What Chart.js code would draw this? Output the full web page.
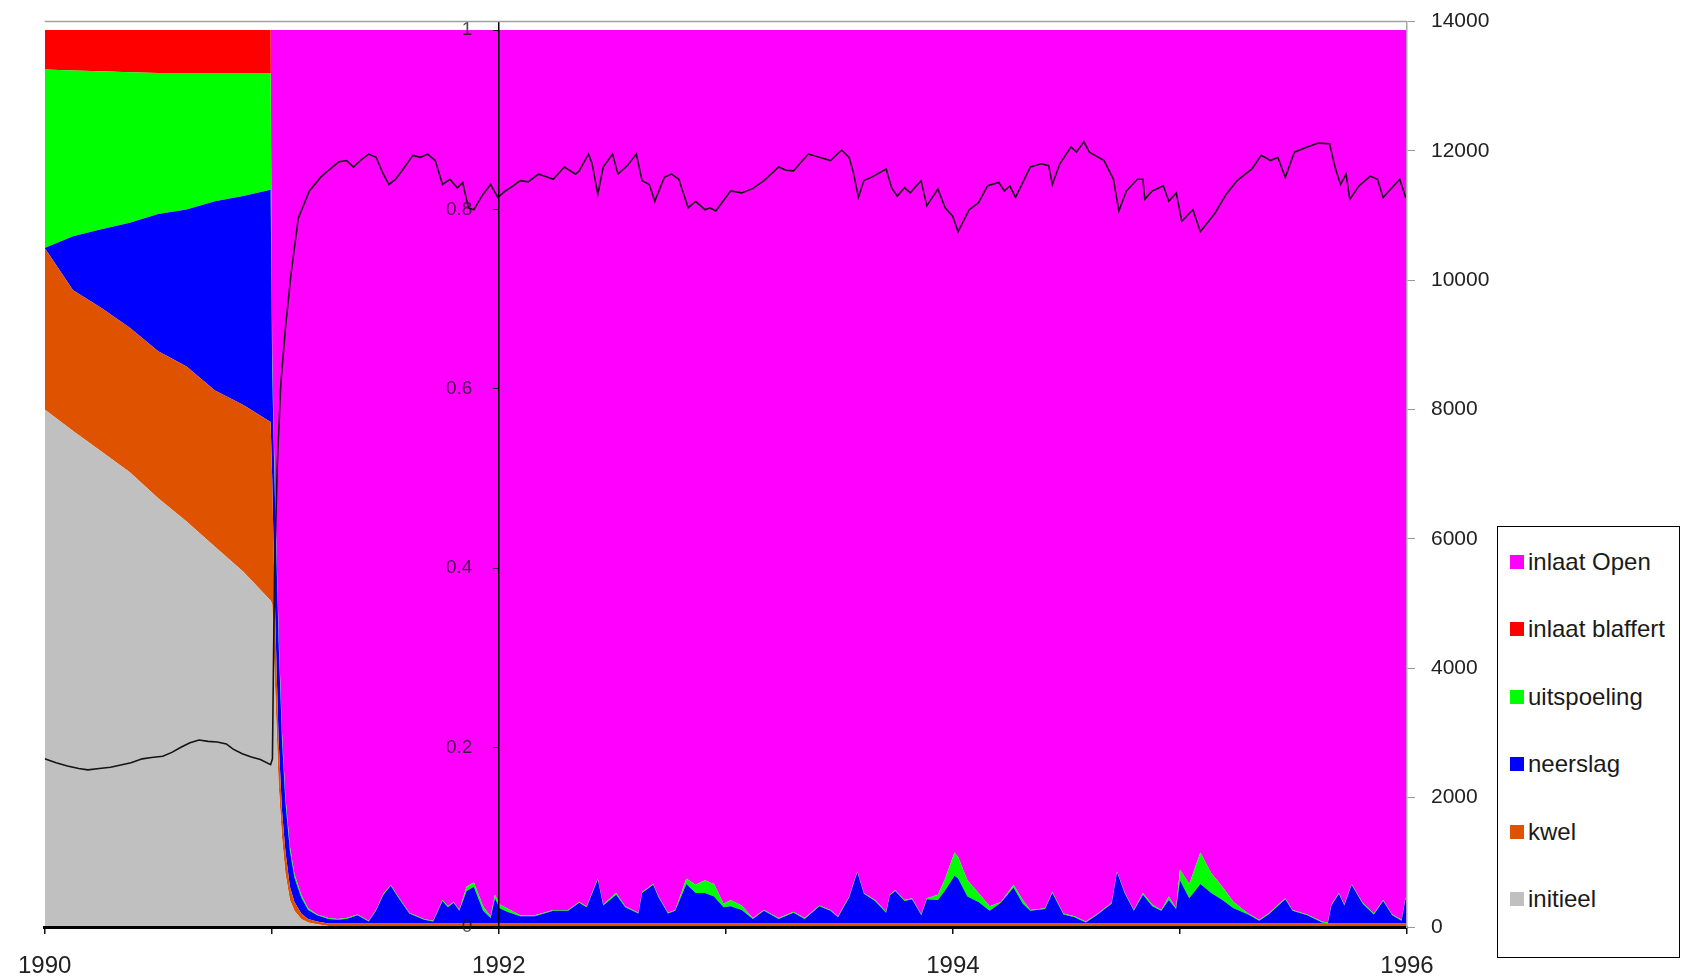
<!DOCTYPE html>
<html>
<head>
<meta charset="utf-8">
<title>Herkomst water</title>
<script src="https://cdn.jsdelivr.net/npm/chart.js@4.4.1/dist/chart.umd.min.js"></script>
<style>
  html, body { margin: 0; padding: 0; background: #fff; }
  #wrap { position: relative; width: 1683px; height: 979px; }
  #legend {
    position: absolute; left: 1497px; top: 526px; width: 183px; height: 432px;
    box-sizing: border-box; border: 1.5px solid #000; background: #fff;
    font: 24px "Liberation Sans", Arial, sans-serif; color: #1a1a1a;
  }
  #legend .item { position: absolute; left: 12px; height: 67.5px; display: flex; align-items: center; white-space: nowrap; }
  #legend .swatch { display: inline-block; width: 14px; height: 14px; margin-right: 4px; }
</style>
</head>
<body>
<div id="wrap">
  <canvas id="chart" width="1683" height="979"></canvas>
  <div id="legend"></div>
</div>
<script>
// shares per component (fraction of total), one value per entry of areaYears
const areaYears = [
  1990, 1990.125, 1990.25, 1990.375, 1990.5, 1990.625, 1990.75, 1990.875, 1990.995,
  1991.002, 1991.01, 1991.02, 1991.03, 1991.045, 1991.06, 1991.08, 1991.1, 1991.13, 1991.16, 1991.2, 1991.25,
  1991.29, 1991.328, 1991.378, 1991.427, 1991.459, 1991.492, 1991.524, 1991.557, 1991.606, 1991.671, 1991.711, 1991.752, 1991.776, 1991.801, 1991.826, 1991.858, 1991.89, 1991.931, 1991.964, 1991.983,
  1992.004, 1992.037, 1992.094, 1992.159, 1992.24, 1992.305, 1992.354, 1992.387, 1992.436, 1992.46, 1992.517, 1992.557, 1992.615, 1992.631, 1992.68, 1992.704, 1992.745, 1992.777, 1992.826, 1992.867, 1992.908, 1992.948, 1992.99,
  1993.021, 1993.07, 1993.119, 1993.168, 1993.233, 1993.298, 1993.347, 1993.412, 1993.461, 1993.494, 1993.543, 1993.579, 1993.608, 1993.657, 1993.706, 1993.722, 1993.746, 1993.787, 1993.82, 1993.861, 1993.885, 1993.934, 1993.966,
  1994.007, 1994.023, 1994.064, 1994.113, 1994.162, 1994.211, 1994.267, 1994.308, 1994.341, 1994.406, 1994.438, 1994.487, 1994.536, 1994.585, 1994.633, 1994.699, 1994.723, 1994.756, 1994.797, 1994.837, 1994.878, 1994.918, 1994.951, 1994.983,
  1995.0, 1995.041, 1995.09, 1995.138, 1995.187, 1995.236, 1995.301, 1995.349, 1995.39, 1995.464, 1995.496, 1995.561, 1995.626, 1995.651, 1995.667, 1995.7, 1995.724, 1995.756, 1995.805, 1995.854, 1995.895, 1995.935, 1995.976, 1995.993, 1996.0
];

const initieel = [
  .577, .553, .530, .507, .478, .452, .424, .396, .364,
  .36, .30, .23, .16, .10, .06, .03, .018, .009, .005, .003, .001,
  .001, .001, .001, .001, .001, .001, .001, .001, .001, .001, .001, .001, .001, .001, .001, .001, .001, .001, .001, .001,
  .001, .001, .001, .001, .001, .001, .001, .001, .001, .001, .001, .001, .001, .001, .001, .001, .001, .001, .001, .001, .001, .001, .001,
  .001, .001, .001, .001, .001, .001, .001, .001, .001, .001, .001, .001, .001, .001, .001, .001, .001, .001, .001, .001, .001, .001, .001,
  .001, .001, .001, .001, .001, .001, .001, .001, .001, .001, .001, .001, .001, .001, .001, .001, .001, .001, .001, .001, .001, .001, .001, .001,
  .001, .001, .001, .001, .001, .001, .001, .001, .001, .001, .001, .001, .001, .001, .001, .001, .001, .001, .001, .001, .001, .001, .001, .001, .001
];

const kwel = [
  .180, .157, .160, .161, .164, .173, .174, .186, .199,
  .14, .10, .07, .05, .03, .025, .015, .01, .006, .004, .003, .003,
  .003, .003, .003, .003, .003, .003, .003, .003, .003, .003, .003, .003, .003, .003, .003, .003, .003, .003, .003, .003,
  .003, .003, .003, .003, .003, .003, .003, .003, .003, .003, .003, .003, .003, .003, .003, .003, .003, .003, .003, .003, .003, .003, .003,
  .003, .003, .003, .003, .003, .003, .003, .003, .003, .003, .003, .003, .003, .003, .003, .003, .003, .003, .003, .003, .003, .003, .003,
  .003, .003, .003, .003, .003, .003, .003, .003, .003, .003, .003, .003, .003, .003, .003, .003, .003, .003, .003, .003, .003, .003, .003, .003,
  .003, .003, .003, .003, .003, .003, .003, .003, .003, .003, .003, .003, .003, .003, .003, .003, .003, .003, .003, .003, .003, .003, .003, .003, .003
];

const neerslag = [
  0, .060, .088, .117, .153, .175, .211, .233, .259,
  .12, .12, .12, .11, .08, .055, .04, .027, .018, .010, .007, .005,
  .004, .005, .009, .002, .014, .032, .042, .029, .011, .004, .002, .025, .018, .023, .014, .036, .041, .014, .006, .028,
  .017, .013, .008, .008, .014, .014, .023, .018, .049, .020, .032, .018, .011, .034, .043, .029, .011, .014, .044, .034, .034, .030, .018,
  .019, .015, .005, .014, .005, .012, .005, .019, .014, .007, .029, .057, .033, .025, .012, .031, .036, .025, .027, .009, .027, .026, .037,
  .053, .050, .030, .024, .014, .023, .040, .022, .014, .016, .034, .010, .007, .001, .009, .022, .057, .034, .014, .032, .019, .014, .026, .016,
  .048, .028, .044, .034, .026, .017, .010, .003, .010, .027, .014, .009, .001, 0, .020, .033, .020, .043, .022, .010, .025, .009, .003, .027, .026
];

const uitspoeling = [
  .199, .185, .176, .168, .157, .152, .143, .137, .130,
  .02, .015, .01, .01, .008, .006, .005, .004, .003, .002, .001, .001,
  .001, .001, .001, .001, .001, .001, .001, .001, .001, .001, .001, .001, .001, .001, .001, .005, .005, .005, .002, .004,
  .004, .004, .001, .001, .001, .001, .001, .001, .001, .001, .002, .001, .001, .001, .001, .001, .001, .001, .006, .009, .014, .014, .004,
  .007, .005, .001, .001, .001, .001, .001, .001, .001, .001, .001, .001, .001, .001, .001, .001, .001, .001, .001, .001, .001, .006, .013,
  .026, .024, .018, .010, .005, .001, .003, .004, .001, .001, .001, .001, .001, .001, .001, .001, .001, .001, .001, .002, .002, .001, .004, .001,
  .012, .016, .035, .022, .015, .007, .001, .001, .001, .001, .001, .001, .001, .001, .001, .001, .001, .001, .001, .001, .001, .001, .001, .001, .001
];

const inlaatBlaffert = [
  .044, .045, .046, .047, .048, .048, .048, .048, .048,
  0, 0, 0, 0, 0, 0, 0, 0, 0, 0, 0, 0,
  0, 0, 0, 0, 0, 0, 0, 0, 0, 0, 0, 0, 0, 0, 0, 0, 0, 0, 0, 0,
  0, 0, 0, 0, 0, 0, 0, 0, 0, 0, 0, 0, 0, 0, 0, 0, 0, 0, 0, 0, 0, 0, 0,
  0, 0, 0, 0, 0, 0, 0, 0, 0, 0, 0, 0, 0, 0, 0, 0, 0, 0, 0, 0, 0, 0, 0,
  0, 0, 0, 0, 0, 0, 0, 0, 0, 0, 0, 0, 0, 0, 0, 0, 0, 0, 0, 0, 0, 0, 0, 0,
  0, 0, 0, 0, 0, 0, 0, 0, 0, 0, 0, 0, 0, 0, 0, 0, 0, 0, 0, 0, 0, 0, 0, 0, 0
];

const inlaatOpen = [
  0, 0, 0, 0, 0, 0, 0, 0, 0,
  .36, .465, .57, .67, .782, .854, .91, .941, .964, .979, .986, .990,
  .991, .990, .986, .993, .981, .963, .953, .966, .984, .991, .993, .970, .977, .972, .981, .955, .950, .977, .988, .964,
  .975, .979, .987, .987, .981, .981, .972, .977, .946, .975, .962, .977, .984, .961, .952, .966, .984, .981, .946, .953, .948, .952, .974,
  .970, .976, .990, .981, .990, .983, .990, .976, .981, .988, .966, .938, .962, .970, .983, .964, .959, .970, .968, .986, .968, .964, .946,
  .917, .922, .948, .962, .977, .972, .953, .970, .981, .979, .961, .985, .988, .994, .986, .973, .938, .961, .981, .962, .975, .981, .966, .979,
  .936, .952, .917, .940, .955, .972, .985, .992, .985, .968, .981, .986, .994, .995, .975, .962, .975, .952, .973, .985, .970, .986, .992, .968, .969
];

// concentration line on the right-hand axis
const lineYears = [
  1990, 1990.05, 1990.1, 1990.15, 1990.19, 1990.24, 1990.29, 1990.33, 1990.38, 1990.43, 1990.47, 1990.52, 1990.56, 1990.6, 1990.64, 1990.68, 1990.72, 1990.76, 1990.8, 1990.83, 1990.87, 1990.91, 1990.95, 1990.995,
  1991.003, 1991.008, 1991.013, 1991.025, 1991.04, 1991.06, 1991.085, 1991.117, 1991.166, 1991.215, 1991.25, 1991.296, 1991.33, 1991.36, 1991.39, 1991.427, 1991.46, 1991.49, 1991.516, 1991.545, 1991.573, 1991.622, 1991.655, 1991.687, 1991.72, 1991.752, 1991.785, 1991.817, 1991.841, 1991.866, 1991.89, 1991.931, 1991.964, 1991.996,
  1992.029, 1992.06, 1992.094, 1992.13, 1992.175, 1992.21, 1992.24, 1992.289, 1992.338, 1992.354, 1992.395, 1992.411, 1992.436, 1992.46, 1992.501, 1992.525, 1992.566, 1992.606, 1992.631, 1992.663, 1992.687, 1992.729, 1992.761, 1992.793, 1992.834, 1992.867, 1992.908, 1992.93, 1992.956,
  1993.021, 1993.07, 1993.12, 1993.168, 1993.233, 1993.265, 1993.298, 1993.363, 1993.412, 1993.461, 1993.5, 1993.511, 1993.543, 1993.56, 1993.584, 1993.608, 1993.641, 1993.706, 1993.73, 1993.755, 1993.787, 1993.812, 1993.86, 1993.885, 1993.934, 1993.966, 1993.999,
  1994.023, 1994.072, 1994.113, 1994.153, 1994.202, 1994.227, 1994.251, 1994.276, 1994.341, 1994.39, 1994.422, 1994.438, 1994.471, 1994.52, 1994.544, 1994.577, 1994.601, 1994.666, 1994.707, 1994.731, 1994.764, 1994.813, 1994.837, 1994.845, 1994.878, 1994.927, 1994.951, 1994.984,
  1995.008, 1995.057, 1995.09, 1995.155, 1995.204, 1995.252, 1995.317, 1995.358, 1995.399, 1995.431, 1995.464, 1995.504, 1995.561, 1995.61, 1995.659, 1995.683, 1995.707, 1995.732, 1995.748, 1995.789, 1995.838, 1995.87, 1995.895, 1995.968, 1995.994
];
const lineValues = [
  2600, 2540, 2490, 2450, 2430, 2450, 2470, 2500, 2540, 2600, 2620, 2640, 2700, 2780, 2850, 2890, 2870, 2860, 2830, 2750, 2680, 2630, 2590, 2510,
  2600, 4200, 5600, 7200, 8400, 9250, 10100, 10960, 11380, 11590, 11700, 11830, 11850, 11750, 11850, 11950, 11900, 11650, 11480, 11560, 11690, 11930, 11900, 11950, 11850, 11480, 11560, 11430, 11510, 11120, 11090, 11330, 11480, 11280,
  11380, 11450, 11540, 11520, 11640, 11600, 11560, 11750, 11640, 11690, 11950, 11800, 11330, 11750, 11950, 11640, 11770, 11950, 11540, 11480, 11220, 11590, 11640, 11560, 11120, 11220, 11090, 11120, 11070,
  11380, 11350, 11420, 11540, 11750, 11700, 11690, 11950, 11900, 11850, 11980, 12010, 11900, 11690, 11280, 11540, 11590, 11720, 11430, 11300, 11430, 11350, 11540, 11150, 11410, 11120, 10990,
  10750, 11090, 11200, 11460, 11510, 11380, 11460, 11280, 11750, 11800, 11770, 11480, 11800, 12060, 11980, 12140, 11980, 11850, 11560, 11070, 11380, 11560, 11560, 11250, 11380, 11460, 11220, 11350,
  10910, 11090, 10750, 11040, 11330, 11540, 11720, 11930, 11850, 11900, 11590, 11980, 12060, 12120, 12110, 11750, 11480, 11640, 11250, 11460, 11610, 11560, 11280, 11560, 11280
];

const shareTicks = [0, 0.2, 0.4, 0.6, 0.8, 1];
const yearLabels = [1990, 1992, 1994, 1996];

const FONT = '"Liberation Sans", Arial, sans-serif';

function toPoints(xs, ys) {
  return xs.map((x, i) => ({ x: x, y: ys[i] }));
}

function area(label, values, color, fill) {
  return {
    label: label,
    data: toPoints(areaYears, values),
    yAxisID: 'y',
    backgroundColor: color,
    borderColor: color,
    borderWidth: 0,
    pointRadius: 0,
    fill: fill
  };
}

// vertical axes should not push the plot down with their label padding
function noLabelPadding(scale) {
  scale.paddingTop = 0;
  scale.paddingBottom = 0;
}

// grey frame line along the top of the plot
const topFrame = {
  id: 'topFrame',
  afterDraw(chart) {
    const { ctx, chartArea } = chart;
    ctx.save();
    ctx.strokeStyle = '#a0a0a0';
    ctx.lineWidth = 1.5;
    ctx.beginPath();
    ctx.moveTo(chartArea.left, chartArea.top);
    ctx.lineTo(chartArea.right, chartArea.top);
    ctx.stroke();
    ctx.restore();
  }
};

const ctx = document.getElementById('chart').getContext('2d');
const chart = new Chart(ctx, {
  type: 'line',
  data: {
    datasets: [
      area('initieel', initieel, '#c0c0c0', 'origin'),
      area('kwel', kwel, '#df5200', '-1'),
      area('neerslag', neerslag, '#0000ff', '-1'),
      area('uitspoeling', uitspoeling, '#00ff00', '-1'),
      area('inlaat blaffert', inlaatBlaffert, '#ff0000', '-1'),
      area('inlaat Open', inlaatOpen, '#ff00ff', '-1'),
      {
        label: 'concentratie',
        data: toPoints(lineYears, lineValues),
        yAxisID: 'y2',
        borderColor: '#141414',
        borderWidth: 1.6,
        pointRadius: 0,
        fill: false,
        order: -1
      }
    ]
  },
  plugins: [topFrame],
  options: {
    responsive: false,
    animation: false,
    layout: { padding: { left: 43, right: 186, top: 21.5, bottom: 0 } },
    elements: { line: { tension: 0 } },
    plugins: { legend: { display: false }, tooltip: { enabled: false } },
    scales: {
      x: {
        type: 'linear', position: 'bottom', min: 1990, max: 1996,
        ticks: {
          stepSize: 1, autoSkip: false, maxRotation: 0, padding: 18, color: '#222',
          font: { family: FONT, size: 24 },
          callback: v => yearLabels.includes(v) ? String(v) : ''
        },
        grid: { drawOnChartArea: false, tickLength: 7, color: '#111', lineWidth: 1.5 },
        border: { color: '#000', width: 3, z: 2 },
        afterFit: s => { s.height = 52; }
      },
      y: {
        type: 'linear', stacked: true, min: 0, max: 1.0095, position: { x: 1992 },
        afterBuildTicks: s => { s.ticks = shareTicks.map(v => ({ value: v })); },
        // labels are right-aligned on the axis line; trailing spaces keep them clear of it
        ticks: { z: 2, padding: 0, color: 'rgba(25,25,25,0.8)', font: { family: FONT, size: 19 }, callback: v => String(v) + '     ' },
        grid: { z: 2, drawOnChartArea: false, tickLength: 5, color: '#111' },
        border: { z: 2, color: '#000', width: 1.5 },
        afterFit: noLabelPadding
      },
      y2: {
        type: 'linear', position: 'right', min: 0, max: 14000,
        ticks: { stepSize: 2000, padding: 16, color: '#222', font: { family: FONT, size: 21 }, callback: v => String(v) },
        grid: { drawOnChartArea: false, tickLength: 8, color: '#999' },
        border: { z: 2, color: '#a8a8a8', width: 1.5 },
        afterFit: s => { s.width = 90; noLabelPadding(s); }
      }
    }
  }
});

// legend box on the right, top entry is the last stacked series
const legendBox = document.getElementById('legend');
chart.data.datasets.slice(0, 6).reverse().forEach((ds, i) => {
  const item = document.createElement('div');
  item.className = 'item';
  item.style.top = (1 + i * 67.5) + 'px';
  const swatch = document.createElement('span');
  swatch.className = 'swatch';
  swatch.style.background = ds.backgroundColor;
  item.appendChild(swatch);
  item.appendChild(document.createTextNode(ds.label));
  legendBox.appendChild(item);
});
</script>
</body>
</html>
